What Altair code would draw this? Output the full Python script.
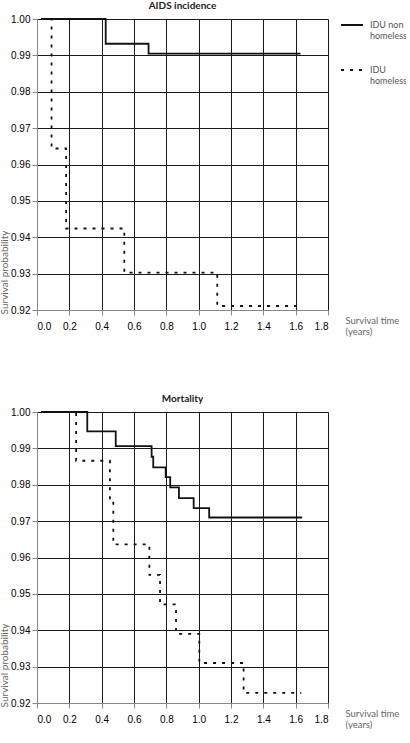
import altair as alt
import pandas as pd

FONT = "Lato"
GROUPS = ["IDU non homeless", "IDU homeless"]

# AIDS incidence: step times (years) and survival probabilities
aids_non_t = [0.025, 0.425, 0.69, 1.63]
aids_non_s = [1.000, 0.9932, 0.9905, 0.9905]
aids_hom_t = [0.025, 0.09, 0.18, 0.54, 1.115, 1.61]
aids_hom_s = [1.000, 0.9644, 0.9424, 0.9303, 0.9211, 0.9211]

# Mortality: step times (years) and survival probabilities
mort_non_t = [0.025, 0.311, 0.487, 0.709, 0.719, 0.796, 0.824, 0.878, 0.969, 1.065, 1.64]
mort_non_s = [1.000, 0.9947, 0.9906, 0.9877, 0.9848, 0.9821, 0.9793, 0.9763, 0.9736, 0.9710, 0.9710]
mort_hom_t = [0.025, 0.242, 0.451, 0.472, 0.695, 0.761, 0.860, 1.004, 1.278, 1.635]
mort_hom_s = [1.000, 0.9866, 0.9758, 0.9636, 0.9552, 0.9471, 0.9390, 0.9310, 0.9228, 0.9228]

x_ticks = [0.0, 0.2, 0.4, 0.6, 0.8, 1.0, 1.2, 1.4, 1.6, 1.8]
y_ticks = [0.92, 0.93, 0.94, 0.95, 0.96, 0.97, 0.98, 0.99, 1.00]

GRID = "#1a1a1a"


def frame(t_non, s_non, t_hom, s_hom):
    rows = [{"t": t, "s": s, "group": GROUPS[0]} for t, s in zip(t_non, s_non)]
    rows += [{"t": t, "s": s, "group": GROUPS[1]} for t, s in zip(t_hom, s_hom)]
    return pd.DataFrame(rows)


def panel(df, title):
    return (
        alt.Chart(df, title=alt.Title(title, fontSize=10, fontWeight="bold",
                                       font=FONT, color="#222", offset=3,
                                       anchor="middle", frame="group"))
        .mark_line(interpolate="step-after", color="#111", strokeWidth=1.8)
        .encode(
            x=alt.X("t:Q",
                    scale=alt.Scale(domain=[0, 1.8], nice=False, zero=False),
                    axis=alt.Axis(values=x_ticks, format=".1f", grid=True,
                                  gridColor=GRID, gridOpacity=1, gridWidth=1,
                                  labelPadding=6,
                                  title=["Survival time", "(years)"],
                                  titleX=308, titleY=10, titleAlign="left",
                                  titleBaseline="middle", titleFontWeight="normal",
                                  titleFontSize=9.5, titleColor="#666",
                                  titleLineHeight=11, titleFont=FONT)),
            y=alt.Y("s:Q",
                    scale=alt.Scale(domain=[0.92, 1.0], nice=False, zero=False),
                    axis=alt.Axis(values=y_ticks, format=".2f", grid=True,
                                  gridColor=GRID, gridOpacity=1, gridWidth=1,
                                  title="Survival probability",
                                  titleX=-30, titleY=253, titleAngle=-90,
                                  titleAlign="center", titleBaseline="alphabetic",
                                  titleFontWeight="normal", titleFontSize=10,
                                  titleColor="#666", titleFont=FONT)),
            strokeDash=alt.StrokeDash(
                "group:N",
                scale=alt.Scale(domain=GROUPS, range=[[1, 0], [3, 6]]),
                legend=alt.Legend(
                    title=None, orient="none", legendX=303, legendY=-6,
                    padding=0, offset=0,
                    symbolType="stroke", symbolSize=484, symbolStrokeWidth=2,
                    symbolStrokeColor="#111", labelOffset=6,
                    labelFontSize=9, labelColor="#555", labelFont=FONT,
                    labelBaseline="middle", rowPadding=17,
                    labelExpr="datum.label == 'IDU non homeless' ? ['IDU non', 'homeless'] : ['IDU', 'homeless']",
                ),
            ),
        )
        .properties(width=291, height=291)
    )


top = panel(frame(aids_non_t, aids_non_s, aids_hom_t, aids_hom_s), "AIDS incidence")
bottom = panel(frame(mort_non_t, mort_non_s, mort_hom_t, mort_hom_s), "Mortality")

chart = (
    alt.vconcat(top, bottom, spacing=57)
    .properties(padding={"left": -2, "top": 0, "right": -1, "bottom": 0})
    .configure_view(stroke="#111", strokeWidth=1)
    .configure_axis(
        grid=True, gridColor=GRID, gridWidth=1, gridOpacity=1,
        domain=False, tickSize=0, tickOpacity=0, labelPadding=7,
        labelFont=FONT, labelFontSize=9.5, labelColor="#666",
    )
    .configure(background="white")
)

chart.save("out.html", embed_options={"renderer": "svg", "actions": False})
